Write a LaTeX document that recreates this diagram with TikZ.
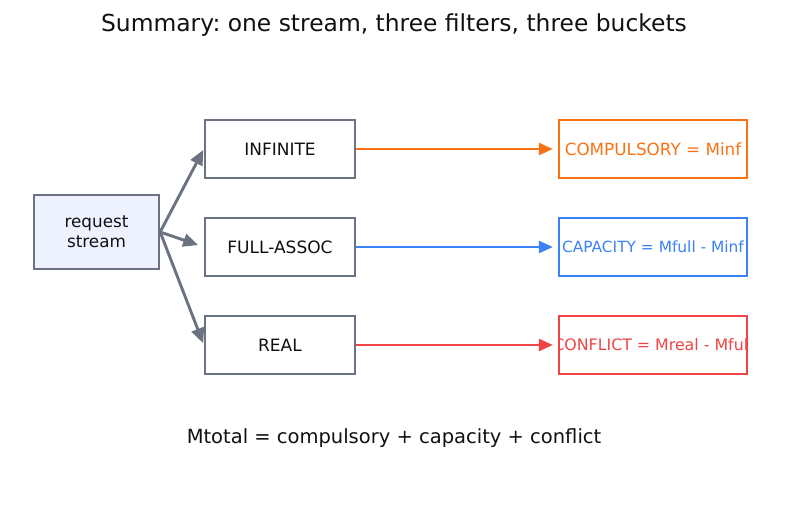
\documentclass[tikz,border=0pt]{standalone}
\usepackage{fontspec}
\setmainfont{DejaVu Sans}
\frenchspacing
\usetikzlibrary{
  arrows.meta,
  positioning,
}
\definecolor{slate}{HTML}{6B7280}
\definecolor{reqfill}{HTML}{EEF2FF}
\definecolor{orangeb}{HTML}{F97316}
\definecolor{blueb}{HTML}{3B82F6}
\definecolor{redb}{HTML}{EF4444}
\definecolor{ink}{HTML}{111111}

\tikzstyle{filter} = [
  draw=slate,
  line width=2.3pt,
  minimum width=150pt,
  minimum height=58pt,
  inner sep=0pt,
  text=ink,
  font=\fontsize{17}{20}\selectfont,
]
\tikzstyle{bucket} = [
  draw,
  line width=2.3pt,
  minimum width=188pt,
  minimum height=58pt,
  inner sep=0pt,
]
\tikzstyle{feed} = [
  -{Triangle[length=15pt,width=13pt]},
  line width=2.9pt,
  slate,
]
\tikzstyle{route} = [
  -{Triangle[length=14pt,width=12pt]},
  line width=2.4pt,
  shorten >=5pt,
]

\begin{document}
\begin{tikzpicture}[x=1pt, y=-1pt]

        \useasboundingbox [fill=white] (0,0) rectangle (787,510);

        \node [text=ink, font=\fontsize{23.4}{28}\selectfont] (title) at (394,25)
              {Summary: one stream, three filters, three buckets};

        \node [draw=slate, fill=reqfill, line width=2.3pt, minimum width=125pt,
               minimum height=74pt, inner sep=0pt, align=center, text=ink,
               font=\fontsize{16.8}{20}\selectfont] (req) at (96.5,232)
              {request\\stream};

        \node [filter] (inf) at (280,149) {INFINITE};
        \node [filter] (full) at (280,247) {FULL-ASSOC};
        \node [filter] (real) at (280,345) {REAL};

        \node [bucket, draw=orangeb, text=orangeb,
               font=\fontsize{16.8}{20}\selectfont] (comp) at (653,149)
              {COMPULSORY = Minf};
        \node [bucket, draw=blueb, text=blueb,
               font=\fontsize{15.4}{18}\selectfont] (cap) at (653,247)
              {CAPACITY = Mfull - Minf};
        \node [bucket, draw=redb] (conf) at (653,345) {};

        % the conflict label is wider than its box
        \begin{scope}
          \clip ([xshift=1pt]conf.south west) rectangle ([xshift=-1pt]conf.north east);
          \node [text=redb, font=\fontsize{15.8}{18}\selectfont] (conftext) at (conf)
                {CONFLICT = Mreal - Mfull};
        \end{scope}

        \draw [feed, shorten >=1pt] (req.east) -- (inf.west);
        \draw [feed, shorten >=6pt] (req.east) -- (full.west);
        \draw [feed, shorten >=2pt] (req.east) -- (real.west);

        \draw [route, orangeb] (inf.east) -- (comp.west);
        \draw [route, blueb] (full.east) -- (cap.west);
        \draw [route, redb] (real.east) -- (conf.west);

        \node [text=ink, font=\fontsize{19.5}{23}\selectfont] (total) at (394,438)
              {Mtotal = compulsory + capacity + conflict};

      \end{tikzpicture}
\end{document}
